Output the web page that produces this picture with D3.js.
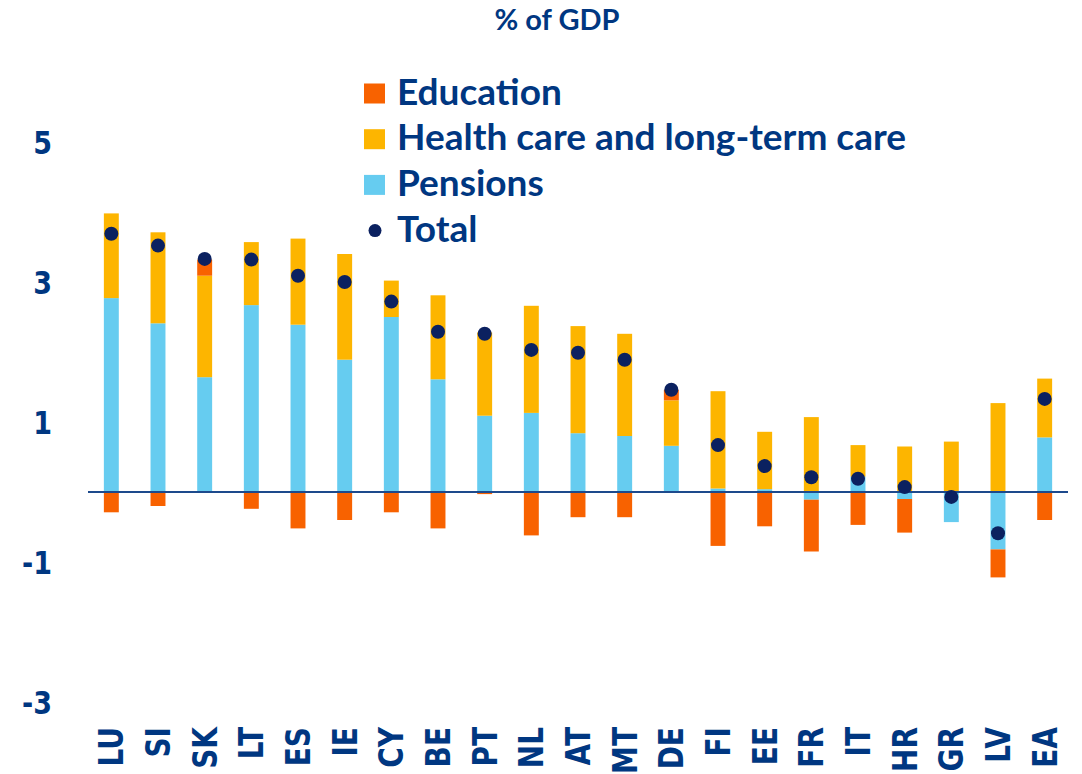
<!DOCTYPE html>
<html>
<head>
<meta charset="utf-8">
<script src="https://cdn.jsdelivr.net/npm/d3@7"></script>
<style>
  body { margin: 0; background: #fff; }
  svg { display: block; }
</style>
</head>
<body>
<div id="chart"></div>
<script>
// data (% of GDP)
var countries = ["LU", "SI", "SK", "LT", "ES", "IE", "CY", "BE", "PT", "NL", "AT",
                 "MT", "DE", "FI", "EE", "FR", "IT", "HR", "GR", "LV", "EA"];
var pensions  = [2.77, 2.41, 1.64, 2.67, 2.39, 1.89, 2.50, 1.61, 1.09, 1.13, 0.84,
                 0.80, 0.66, 0.05, 0.04, -0.11, 0.22, -0.10, -0.43, -0.82, 0.78];
var health    = [1.21, 1.30, 1.45, 0.90, 1.23, 1.51, 0.52, 1.20, 1.19, 1.53, 1.53,
                 1.46, 0.65, 1.39, 0.82, 1.07, 0.45, 0.65, 0.72, 1.27, 0.84];
var education = [-0.29, -0.20, 0.23, -0.24, -0.52, -0.40, -0.29, -0.52, -0.03, -0.62, -0.36,
                 -0.36, 0.15, -0.77, -0.49, -0.74, -0.47, -0.48, 0, -0.40, -0.40];
var total     = [3.69, 3.52, 3.33, 3.32, 3.09, 3.00, 2.72, 2.29, 2.26, 2.03, 1.99,
                 1.89, 1.46, 0.67, 0.37, 0.21, 0.19, 0.07, -0.07, -0.59, 1.33];
var yTicks = [5, 3, 1, -1, -3];

var legendItems = ["Education", "Health care and long-term care", "Pensions", "Total"];
var colors = {
    pensions: "#66ccf0",
    health: "#fdb500",
    education: "#f86200",
    total: "#0b2160"
};
var textBlue = "#003781";
var labelFont = "'DejaVu Sans', Verdana, sans-serif";
var legendFont = "Lato, 'Noto Sans', sans-serif";

var svgWidth = 1082;
var svgHeight = 774;

var svg = d3.select("#chart")
    .append("svg")
    .attr("width", svgWidth)
    .attr("height", svgHeight);

// table for the stack
var rows = countries.map(function(c, i) {
    return { country: c, pensions: pensions[i], health: health[i], education: education[i], total: total[i] };
});

var keys = ["pensions", "health", "education"];
var series = d3.stack()
    .keys(keys)
    .offset(d3.stackOffsetDiverging)(rows);

// scales
var xScale = d3.scaleBand()
    .domain(countries)
    .range([88, 1068])
    .paddingInner(0.68)
    .paddingOuter(0.34);

var yScale = d3.scaleLinear()
    .domain([-3, 5])
    .range([702, 142]);

// bars
svg.append("g")
    .selectAll("g")
    .data(series)
    .enter()
    .append("g")
    .attr("fill", d => colors[d.key])
    .selectAll("rect")
    .data(d => d)
    .enter()
    .append("rect")
    .attr("x", d => xScale(d.data.country))
    .attr("width", xScale.bandwidth())
    .attr("y", d => yScale(Math.max(d[0], d[1])))
    .attr("height", d => Math.abs(yScale(d[0]) - yScale(d[1])));

// zero line
svg.append("line")
    .attr("x1", 88)
    .attr("x2", 1068)
    .attr("y1", yScale(0))
    .attr("y2", yScale(0))
    .attr("stroke", "#1d4a8c")
    .attr("stroke-width", 2);

// total dots
svg.append("g")
    .selectAll("circle")
    .data(rows)
    .enter()
    .append("circle")
    .attr("cx", d => xScale(d.country) + xScale.bandwidth() / 2)
    .attr("cy", d => yScale(d.total))
    .attr("r", 7)
    .attr("fill", colors.total);

// y axis, labels only (plain hyphen for negatives)
var yAxis = d3.axisLeft(yScale)
    .tickValues(yTicks)
    .tickSize(0)
    .tickPadding(0)
    .tickFormat(d => String(d));

var yG = svg.append("g")
    .attr("transform", "translate(52, 0)")
    .call(yAxis);
yG.select(".domain").remove();
yG.attr("font-family", null).attr("font-size", null);
yG.selectAll("text")
    .attr("fill", textBlue)
    .style("font-family", labelFont)
    .style("font-weight", "700")
    .style("font-size", "27px")
    .attr("dy", "0.36em")
    .attr("transform", "scale(1, 1.2)");

// x labels, rotated, hanging down from the top
svg.append("g")
    .selectAll("text")
    .data(countries)
    .enter()
    .append("text")
    .attr("fill", textBlue)
    .style("font-family", labelFont)
    .style("font-weight", "700")
    .style("font-size", "28px")
    .attr("text-anchor", "end")
    .attr("dy", "0.36em")
    .attr("transform", d => `translate(${xScale(d) + xScale.bandwidth() / 2}, 727) rotate(-90) scale(1, 1.2)`)
    .text(d => d);

// title
svg.append("text")
    .attr("x", 557)
    .attr("y", 30)
    .attr("text-anchor", "middle")
    .attr("fill", textBlue)
    .style("font-family", legendFont)
    .style("font-weight", "700")
    .style("font-size", "29px")
    .text("% of GDP");

// legend
var legendColors = [colors.education, colors.health, colors.pensions, colors.total];
var legend = svg.append("g")
    .selectAll("g")
    .data(legendItems)
    .enter()
    .append("g")
    .attr("transform", (d, i) => `translate(364, ${93.5 + i * 45.7})`);

legend.filter((d, i) => i < 3)
    .append("rect")
    .attr("x", 0)
    .attr("y", -10)
    .attr("width", 21)
    .attr("height", 20)
    .attr("fill", (d, i) => legendColors[i]);

legend.filter((d, i) => i === 3)
    .append("circle")
    .attr("cx", 11)
    .attr("cy", 0)
    .attr("r", 6.5)
    .attr("fill", colors.total);

legend.append("text")
    .attr("x", 33)
    .attr("y", 11)
    .attr("fill", textBlue)
    .style("font-family", legendFont)
    .style("font-weight", "700")
    .style("font-size", "37px")
    .text(d => d);
</script>
</body>
</html>
